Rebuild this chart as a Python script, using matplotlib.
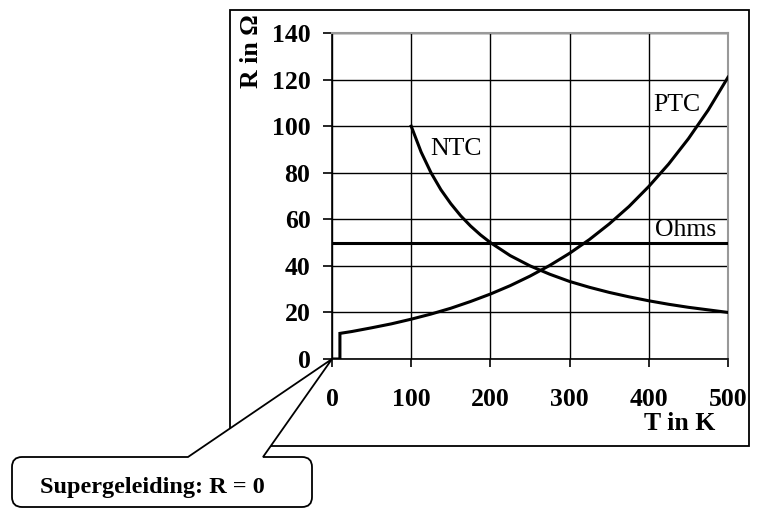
import matplotlib.pyplot as plt
from matplotlib.path import Path
from matplotlib.patches import PathPatch, Rectangle

# data
ptc_T = [0, 10, 10, 25, 50, 75, 100, 125, 150, 175, 200, 225, 250, 275, 300,
         325, 350, 375, 400, 425, 450, 475, 500]
ptc_R = [0, 0, 11, 11.8, 13.4, 15.1, 17.1, 19.3, 21.8, 24.7, 27.9, 31.5, 35.6,
         40.2, 45.4, 51.3, 58.0, 65.5, 74.1, 83.7, 94.6, 106.9, 121]
ntc_T = [100, 112.5, 125, 137.5, 150, 162.5, 175, 187.5, 200, 225, 250, 275,
         300, 325, 350, 375, 400, 425, 450, 475, 500]
ntc_R = [100, 88.9, 80, 72.7, 66.7, 61.5, 57.1, 53.3, 50, 44.4, 40, 36.4,
         33.3, 30.8, 28.6, 26.7, 25, 23.5, 22.2, 21.1, 20]
ohm_T = [0, 500]
ohm_R = [50, 50]
x_ticks = [0, 100, 200, 300, 400, 500]
y_ticks = [0, 20, 40, 60, 80, 100, 120, 140]

plt.rcParams['font.family'] = ['Liberation Serif', 'DejaVu Serif']

W, H = 761, 508
fig = plt.figure(figsize=(W / 100, H / 100), dpi=100)


def fx(px):
    return px / W


def fy(py):
    return 1 - py / H


# outer frame
fig.patches.append(Rectangle((fx(230), fy(446)), fx(749) - fx(230), fy(10) - fy(446),
                             transform=fig.transFigure, fill=False, ec='black',
                             lw=1.3, zorder=0))

ax = fig.add_axes([fx(332), fy(359), fx(728) - fx(332), fy(33) - fy(359)])
ax.set_zorder(1)
ax.patch.set_alpha(0)

ax.plot(ptc_T, ptc_R, color='black', lw=2.2, solid_joinstyle='miter', zorder=3)
ax.plot(ntc_T, ntc_R, color='black', lw=2.2, zorder=3)
ax.plot(ohm_T, ohm_R, color='black', lw=2.2, zorder=3)

ax.set_xlim(0, 500)
ax.set_ylim(0, 140)
ax.set_xticks(x_ticks)
ax.set_yticks(y_ticks)
ax.grid(True, color='black', lw=1.0)
ax.set_axisbelow(True)
for s in ['top', 'right']:
    ax.spines[s].set_color('#999999')
    ax.spines[s].set_linewidth(1.5)
for s in ['left', 'bottom']:
    ax.spines[s].set_color('black')
    ax.spines[s].set_linewidth(1.2)
ax.tick_params(axis='y', length=6.5, width=1.2, pad=9, labelsize=18.5)
ax.tick_params(axis='x', length=6, width=1.2, pad=15, labelsize=18.5)
for lab in ax.get_xticklabels() + ax.get_yticklabels():
    lab.set_fontweight('bold')

ax.text(124, 90, 'NTC', fontsize=18.5, va='center', ha='left')
ax.text(406, 109, 'PTC', fontsize=18.5, va='center', ha='left')
ax.text(408, 53, 'Ohms', fontsize=18.5, va='baseline', ha='left')

fig.text(fx(251), fy(51), 'R in Ω', rotation=90, fontsize=18.5, fontweight='bold',
         ha='center', va='center')
fig.text(fx(680), fy(424), 'T in K', fontsize=18.5, fontweight='bold',
         ha='center', va='center')

# callout box with pointer to the origin
r = 10
pts = [
    (188, 457), (332, 359), (263, 457),
    (312 - r, 457), (312, 457), (312, 457 + r),
    (312, 507 - r), (312, 507), (312 - r, 507),
    (12 + r, 507), (12, 507), (12, 507 - r),
    (12, 457 + r), (12, 457), (12 + r, 457),
    (188, 457),
]
codes = [Path.MOVETO, Path.LINETO, Path.LINETO,
         Path.LINETO, Path.CURVE3, Path.CURVE3,
         Path.LINETO, Path.CURVE3, Path.CURVE3,
         Path.LINETO, Path.CURVE3, Path.CURVE3,
         Path.LINETO, Path.CURVE3, Path.CURVE3,
         Path.CLOSEPOLY]
verts = [(fx(x), fy(y)) for x, y in pts]
fig.patches.append(PathPatch(Path(verts, codes), transform=fig.transFigure,
                             fc='white', ec='black', lw=1.3, zorder=2))
fig.text(fx(152), fy(488), 'Supergeleiding: R = 0', fontsize=17.5,
         fontweight='bold', ha='center', va='center', zorder=3)

fig.savefig('out.png', dpi=100)
